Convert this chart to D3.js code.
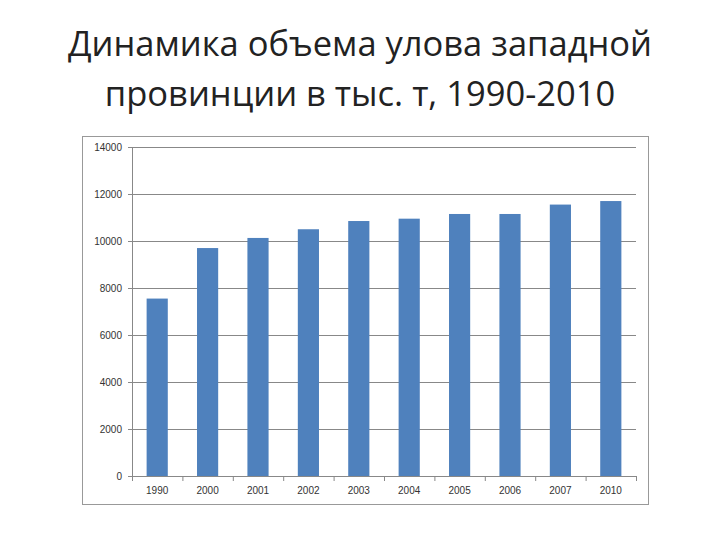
<!DOCTYPE html><html><head><meta charset="utf-8"><script src="https://cdn.jsdelivr.net/npm/d3@7"></script>
<style>body{margin:0;background:#fff}</style></head><body><svg id="c" width="720" height="540"></svg><script>
const categories=["1990","2000","2001","2002","2003","2004","2005","2006","2007","2010"];
const values=[7550,9700,10130,10500,10850,10950,11150,11150,11550,11700];
const yTicks=[0,2000,4000,6000,8000,10000,12000,14000];
const svg=d3.select("#c");
svg.append("text").attr("x",360).attr("y",56).attr("text-anchor","middle").attr("font-family","Open Sans, sans-serif").attr("font-size",34.5).attr("fill","#222").text("Динамика объема улова западной");
svg.append("text").attr("x",360).attr("y",106).attr("text-anchor","middle").attr("font-family","Open Sans, sans-serif").attr("font-size",34.5).attr("fill","#222").text("провинции в тыс. т, 1990-2010");
svg.append("rect").attr("x",82.5).attr("y",136.5).attr("width",566).attr("height",368).attr("fill","none").attr("stroke","#999");
const L=132,R=636,T=147,B=476;
const x=d3.scaleBand().domain(categories).range([L,R]).paddingInner(0.58).paddingOuter(0.29);
const y=d3.scaleLinear().domain([0,14000]).range([B,T]);
const g=svg.append("g");
g.selectAll("line.grid").data(yTicks).join("line").attr("x1",L-4).attr("x2",R).attr("y1",d=>y(d)+.5).attr("y2",d=>y(d)+.5).attr("stroke","#888").attr("stroke-width",1);
g.append("line").attr("x1",L+.5).attr("x2",L+.5).attr("y1",T).attr("y2",B).attr("stroke","#888");
g.selectAll("rect.bar").data(values).join("rect").attr("x",(d,i)=>x(categories[i])).attr("width",x.bandwidth()).attr("y",d=>y(d)).attr("height",d=>B-y(d)).attr("fill","#4f81bd");
const step=x.step();
g.selectAll("line.xt").data(d3.range(categories.length+1)).join("line").attr("x1",i=>L+i*step+.5).attr("x2",i=>L+i*step+.5).attr("y1",B).attr("y2",B+5).attr("stroke","#888");
g.selectAll("text.yl").data(yTicks).join("text").attr("x",L-10).attr("y",d=>y(d)+4).attr("text-anchor","end").attr("font-family","Liberation Sans, Arial").attr("font-size",10).attr("fill","#333").text(d=>d);
g.selectAll("text.xl").data(categories).join("text").attr("x",d=>x(d)+x.bandwidth()/2).attr("y",B+18).attr("text-anchor","middle").attr("font-family","Liberation Sans, Arial").attr("font-size",10).attr("fill","#333").text(d=>d);
</script></body></html>
